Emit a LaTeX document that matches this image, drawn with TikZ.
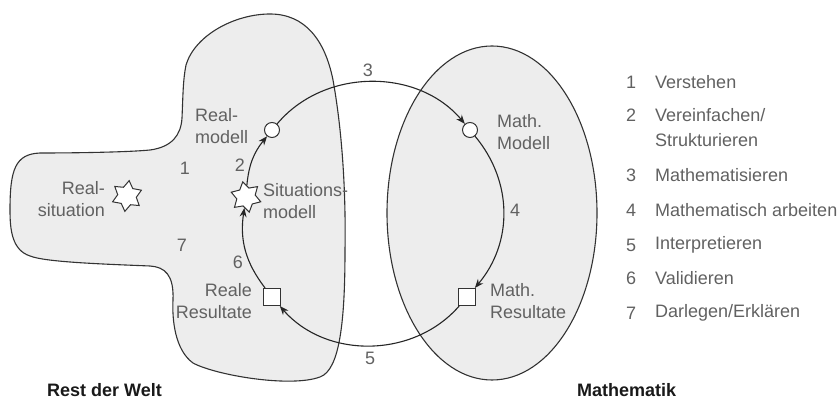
\documentclass[tikz,border=0pt]{standalone}
\usepackage{fontspec}
\setmainfont{Liberation Sans}
\usetikzlibrary{shapes.geometric,arrows.meta}
\begin{document}
\begin{tikzpicture}[x=1pt,y=1pt,
  lbl/.style={text=black!62,font=\fontsize{18}{22}\selectfont,inner sep=0pt},
  bold/.style={font=\fontsize{18}{22}\selectfont\bfseries,text=black!90,inner sep=0pt},
  region/.style={draw=black!80,line width=1.1pt,fill=black!7},
  cyc/.style={draw=black!85,line width=1.1pt,-{Stealth[length=9pt,width=7pt]}},
  ring/.style={circle,draw=black!80,line width=1pt,fill=white,minimum size=15pt,inner sep=0pt},
  box/.style={rectangle,draw=black!80,line width=1pt,fill=white,minimum size=17pt,inner sep=0pt},
  spark/.style={star,star points=6,star point ratio=1.65,draw=black!80,line width=1pt,fill=white,minimum size=31pt,inner sep=0pt}]
\useasboundingbox (0,0) rectangle (840,401);

% Rest der Welt region
\draw[region] (10,191) .. controls (10,231) and (15,247) .. (40,248)
  .. controls (80,248) and (130,249) .. (150,251)
  .. controls (172,254) and (181,266) .. (182,283)
  .. controls (183,306) and (183,321) .. (186,336)
  .. controls (195,366) and (235,387) .. (270,387)
  .. controls (305,387) and (325,361) .. (333,321)
  .. controls (342,271) and (346,211) .. (345,151)
  .. controls (345,81) and (340,31) .. (320,24)
  .. controls (290,13) and (215,26) .. (193,38)
  .. controls (175,51) and (172,81) .. (173,101)
  .. controls (174,126) and (165,134) .. (150,135)
  .. controls (100,137) and (45,139) .. (30,145)
  .. controls (12,151) and (10,171) .. (10,191) -- cycle;

% Mathematik region
\draw[region] (492,188) ellipse [x radius=105, y radius=167];

% nodes of the cycle
\node[ring] (rm) at (272,271) {};
\node[ring] (mm) at (470,271) {};
\node[box] (mr) at (467,104) {};
\node[box] (rr) at (272,104) {};
\node[spark,rotate=12] (sm) at (246,204) {};
\node[spark,rotate=-8] (rs) at (127,205) {};

% connectors
\draw[cyc] (rm) to[bend left=50] (mm);
\draw[cyc] (mm) to[bend left=40] (mr);
\draw[cyc] (mr) to[bend left=49] (rr);
\draw[cyc] (rr) to[bend left=23] (sm);
\draw[cyc] (sm) to[bend left=17] (rm);

% labels
\node[lbl,align=left,anchor=west] (lrm) at (195,275) {Real-\\modell};
\node[lbl,align=right,anchor=east] (lrs) at (105,202) {Real-\\situation};
\node[lbl,align=left,anchor=west] (lsm) at (263,200) {Situations-\\modell};
\node[lbl,align=right,anchor=east] (lrr) at (252,100) {Reale\\Resultate};
\node[lbl,align=left,anchor=west] (lmm) at (497,269) {Math.\\Modell};
\node[lbl,align=left,anchor=west] (lmr) at (490,100) {Math.\\Resultate};

% step numbers
\node[lbl] (n3) at (368,331) {3};
\node[lbl] (n4) at (515,191) {4};
\node[lbl] (n5) at (370,43) {5};
\node[lbl] (n6) at (238,139) {6};
\node[lbl] (n2) at (240,236) {2};
\node[lbl] (n1) at (185,233) {1};
\node[lbl] (n7) at (182,156) {7};

% legend
\node[lbl,anchor=west] (k1) at (626,319) {1};
\node[lbl,anchor=west] (t1) at (655,319) {Verstehen};
\node[lbl,anchor=west] (k2) at (626,286) {2};
\node[lbl,anchor=west,align=left,font=\fontsize{18}{25}\selectfont] (t2) at (655,273.5) {Vereinfachen/\\Strukturieren};
\node[lbl,anchor=west] (k3) at (626,226) {3};
\node[lbl,anchor=west] (t3) at (655,226) {Mathematisieren};
\node[lbl,anchor=west] (k4) at (626,191) {4};
\node[lbl,anchor=west] (t4) at (655,191) {Mathematisch arbeiten};
\node[lbl,anchor=west] (k5) at (626,156) {5};
\node[lbl,anchor=west] (t5) at (655,156) {Interpretieren};
\node[lbl,anchor=west] (k6) at (626,123) {6};
\node[lbl,anchor=west] (t6) at (655,123) {Validieren};
\node[lbl,anchor=west] (k7) at (626,88) {7};
\node[lbl,anchor=west] (t7) at (655,88) {Darlegen/Erklären};

% region titles
\node[bold,anchor=base west] (rw) at (47,4) {Rest der Welt};
\node[bold,anchor=base west] (ma) at (577,4) {Mathematik};
\end{tikzpicture}
\end{document}
